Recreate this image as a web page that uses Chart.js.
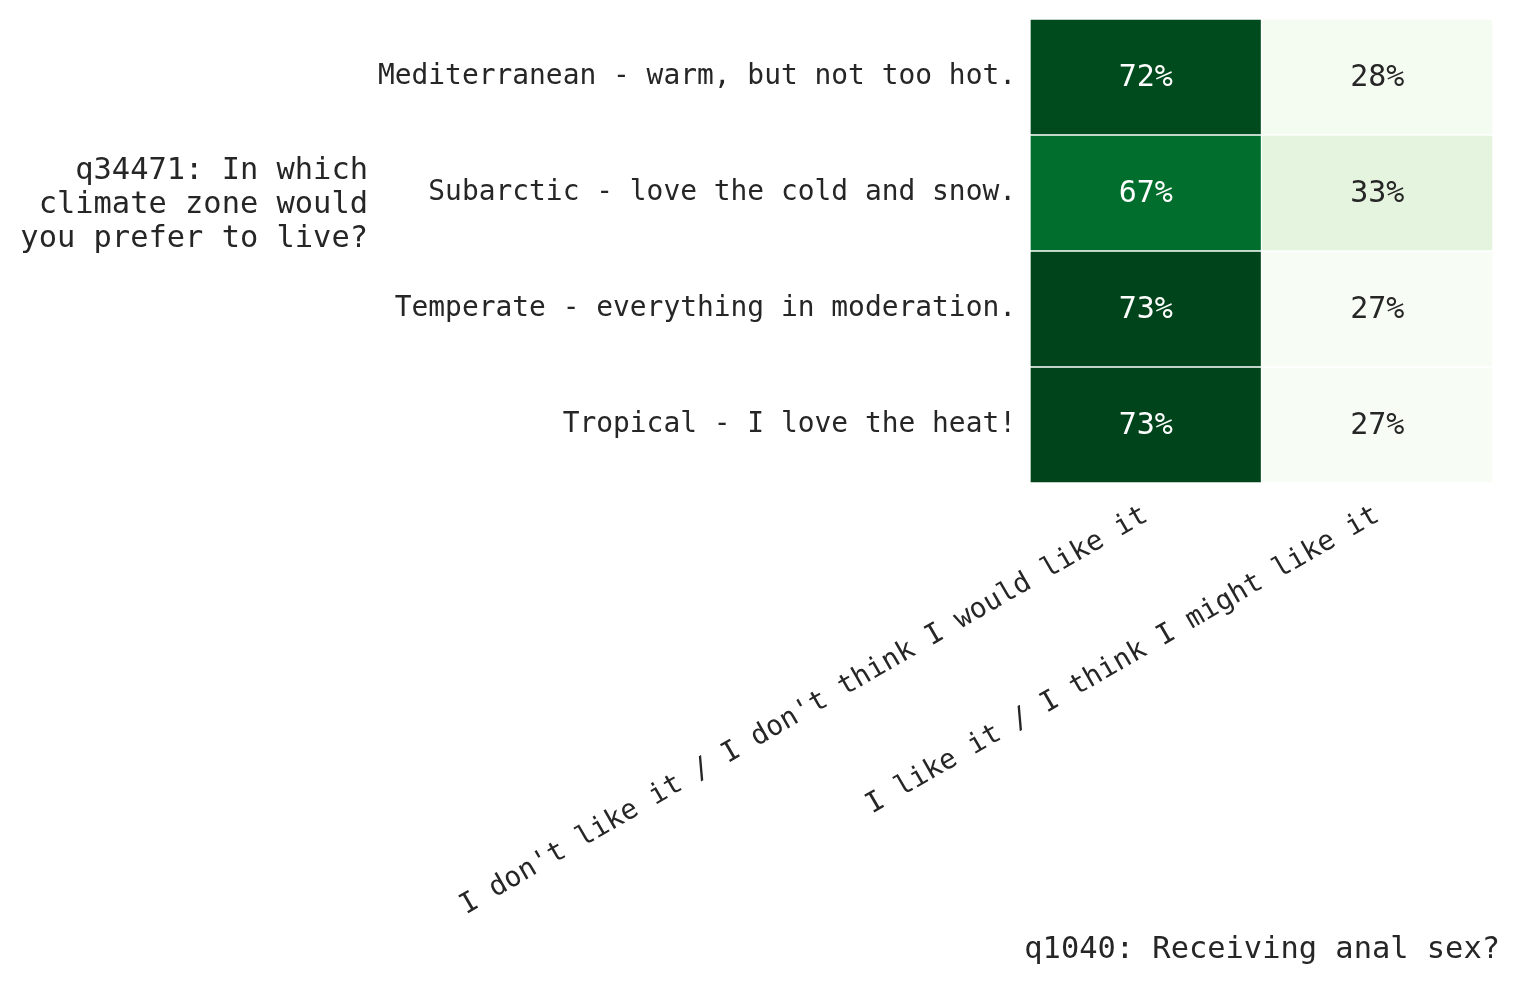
<!DOCTYPE html>
<html>
<head>
<meta charset="utf-8">
<script src="https://cdn.jsdelivr.net/npm/chart.js@4.4.0/dist/chart.umd.min.js"></script>
<style>
  html, body { margin: 0; padding: 0; background: #ffffff; }
  #wrap { width: 1519px; height: 983px; position: relative; }
</style>
</head>
<body>
<div id="wrap"><canvas id="c"></canvas></div>
<script>
// ---- data ----
const rowLabels = [
  "Mediterranean - warm, but not too hot.",
  "Subarctic - love the cold and snow.",
  "Temperate - everything in moderation.",
  "Tropical - I love the heat!"
];
const columnLabels = [
  "I don't like it / I don't think I would like it",
  "I like it / I think I might like it"
];
const dislikePct = [72, 67, 73, 73];
const likePct = [28, 33, 27, 27];
const yTitleLines = ["q34471: In which", "climate zone would", "you prefer to live?"];
const xTitle = "q1040: Receiving anal sex?";

// ---- colour map (matplotlib Greens) ----
const greens = ["#f7fcf5","#e5f5e0","#c7e9c0","#a1d99b","#74c476","#41ab5d","#238b45","#006d2c","#00441b"];
const allVals = dislikePct.concat(likePct);
const vmin = Math.min(...allVals), vmax = Math.max(...allVals);
function hex2rgb(h){ return [parseInt(h.substr(1,2),16),parseInt(h.substr(3,2),16),parseInt(h.substr(5,2),16)]; }
function norm(v){ return (v - vmin) / (vmax - vmin); }
function greensColor(v){
  const t = Math.max(0, Math.min(1, norm(v))) * (greens.length - 1);
  const i = Math.min(greens.length - 2, Math.floor(t));
  const f = t - i;
  const a = hex2rgb(greens[i]), b = hex2rgb(greens[i+1]);
  const c = a.map((x, k) => Math.round(x + (b[k] - x) * f));
  return `rgb(${c[0]},${c[1]},${c[2]})`;
}

const MONO = "'DejaVu Sans Mono', monospace";
const TEXT = "#262626";

const columns = [dislikePct, likePct];

const annotatePlugin = {
  id: 'annotate',
  afterDatasetsDraw(chart) {
    const ctx = chart.ctx;
    ctx.save();
    ctx.font = `30px ${MONO}`;
    ctx.textAlign = 'center';
    ctx.textBaseline = 'middle';
    chart.data.datasets.forEach((ds, di) => {
      const meta = chart.getDatasetMeta(di);
      meta.data.forEach((bar, i) => {
        const v = columns[di][i];
        const p = bar.getProps(['x', 'y', 'base'], true);
        const cx = (p.x + p.base) / 2;
        ctx.fillStyle = norm(v) > 0.5 ? '#ffffff' : TEXT;
        ctx.fillText(v + '%', cx, p.y + 1);
      });
    });
    // axis titles
    ctx.fillStyle = TEXT;
    ctx.font = `30.4px ${MONO}`;
    ctx.textAlign = 'right';
    const yc = 205;
    yTitleLines.forEach((line, k) => {
      ctx.fillText(line, 368, yc + (k - 1) * 34);
    });
    ctx.fillText(xTitle, 1500, 950);
    ctx.restore();
  }
};

new Chart(document.getElementById('c'), {
  type: 'bar',
  data: {
    labels: rowLabels,
    datasets: columns.map((vals, ci) => ({
      label: columnLabels[ci],
      data: vals.map(() => 1),
      backgroundColor: vals.map(greensColor),
      borderColor: '#ffffff',
      borderWidth: 1,
      borderSkipped: false,
      barPercentage: 1,
      categoryPercentage: 1
    }))
  },
  options: {
    indexAxis: 'y',
    responsive: true,
    maintainAspectRatio: false,
    animation: false,
    devicePixelRatio: 1,
    layout: { padding: { left: 0, right: 26, top: 19, bottom: 0 } },
    plugins: { legend: { display: false }, tooltip: { enabled: false } },
    scales: {
      x: {
        type: 'linear',
        stacked: true,
        min: 0, max: 2,
        grid: { display: false, drawTicks: false },
        border: { display: false },
        afterBuildTicks(scale) { scale.ticks = [{ value: 0.5 }, { value: 1.5 }]; },
        afterFit(scale) { scale.height = 500; scale.paddingLeft = 0; scale.paddingRight = 0; },
        ticks: {
          autoSkip: false,
          minRotation: 30,
          maxRotation: 30,
          padding: 16,
          color: TEXT,
          font: { family: MONO, size: 27.9 },
          callback(v) { return v < 1 ? columnLabels[0] : columnLabels[1]; }
        }
      },
      y: {
        type: 'category',
        stacked: true,
        grid: { display: false, drawTicks: false },
        border: { display: false },
        afterFit(scale) { scale.width = 1030; scale.paddingTop = 0; scale.paddingBottom = 0; },
        ticks: {
          padding: 14,
          color: TEXT,
          font: { family: MONO, size: 27.9 }
        }
      }
    }
  },
  plugins: [annotatePlugin]
});
</script>
</body>
</html>
